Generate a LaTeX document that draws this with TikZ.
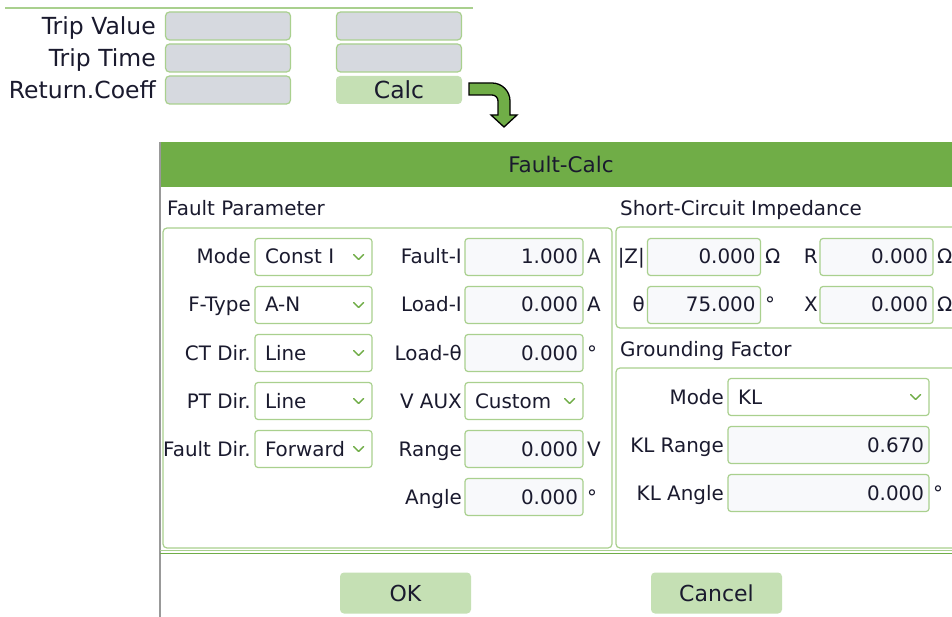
\documentclass[tikz,border=0pt]{standalone}
\usepackage{fontspec}
\setmainfont{DejaVu Sans}
\definecolor{uigreen}{HTML}{70AD47}
\definecolor{uigreenlt}{HTML}{A9D08E}
\definecolor{btngreen}{HTML}{C5E0B4}
\definecolor{boxgray}{HTML}{D6D9DF}
\definecolor{fieldbg}{HTML}{F8F9FB}
\definecolor{uitext}{HTML}{1A1A2E}
\newcommand{\topfont}{\fontsize{23.5}{26}\selectfont}
\newcommand{\dlgfont}{\fontsize{19.9}{22}\selectfont}
\newcommand{\ttlfont}{\fontsize{21.5}{24}\selectfont}
\newcommand{\btnfont}{\fontsize{22}{24}\selectfont}
% small drop-down mark at the right end of a combo
\newcommand{\chev}[1]{\draw[chevline] ([xshift=-19pt]#1.east) ++(0,-2.5) -- ++(5,5) -- ++(5,-5);}

\begin{document}
\begin{tikzpicture}[x=1pt, y=-1pt,
    every node/.style={text=uitext},
    toplbl/.style={anchor=east,inner sep=0pt,font=\topfont,text height=20,text depth=3},
    lbl/.style={anchor=east,inner sep=0pt,font=\dlgfont,text height=16,text depth=2},
    hdr/.style={anchor=west,inner sep=0pt,font=\dlgfont,text height=16,text depth=2},
    unit/.style={anchor=west,inner sep=0pt,font=\dlgfont,text height=16,text depth=2},
    grayfield/.style={draw=uigreenlt,fill=boxgray,rounded corners=4,line width=1.2,minimum width=125,minimum height=28,inner sep=0pt},
    calcbtn/.style={fill=btngreen,rounded corners=4,minimum width=126,minimum height=28,inner sep=0pt,font=\topfont,text height=20,text depth=3},
    combo/.style={draw=uigreenlt,fill=white,rounded corners=3,line width=1.2,minimum height=37,text width=#1,align=left,inner xsep=10,font=\dlgfont,text height=16,text depth=2},
    field/.style={draw=uigreenlt,fill=fieldbg,rounded corners=3,line width=1.2,minimum height=37,text width=#1,align=right,inner xsep=5,font=\dlgfont,text height=16,text depth=2},
    grp/.style={draw=uigreenlt,rounded corners=4,line width=1.2},
    btn/.style={fill=btngreen,rounded corners=4,minimum width=131,minimum height=41,font=\btnfont},
    chevline/.style={uigreen,line width=1.4,line cap=round,line join=round},
    flowarrow/.style={fill=uigreen,draw=black,line width=1.3,line join=miter}
  ]
  \clip (0,0) rectangle (952,617);
  \fill[white] (0,0) rectangle (952,617);

  % setting form
  \draw[uigreenlt,line width=1.2] (5,8) -- (473,8);
  \node[toplbl] (tvl) at (156,26) {Trip Value};
  \node[toplbl] (ttl) at (156,58) {Trip Time};
  \node[toplbl] (rcl) at (156,90) {Return.Coeff};
  \node[grayfield] (tv1) at (228,26) {};
  \node[grayfield] (tt1) at (228,58) {};
  \node[grayfield] (rc1) at (228,90) {};
  \node[grayfield] (tv2) at (399,26) {};
  \node[grayfield] (tt2) at (399,58) {};
  \node[calcbtn] (calc) at (399,90) {Calc};

  % bent arrow to the dialog
  \filldraw[flowarrow] (469,83) -- (492,83) arc (-90:0:18) -- (510,115) -- (517,115)
    -- (504,127) -- (491,115) -- (498,115) -- (498,101) arc (0:-90:6) -- (469,95) -- cycle;

  % dialog frame
  \draw[gray!80,line width=1.2] (160,142) -- (160,617);
  \fill[uigreen] (161,142) rectangle (960,187);
  \node[font=\ttlfont,text height=17,text depth=3] (title) at (561,166) {Fault-Calc};
  \node[hdr] (fph) at (167,209) {Fault Parameter};
  \node[hdr] (sch) at (620,209) {Short-Circuit Impedance};
  \node[hdr] (gfh) at (620,349) {Grounding Factor};
  \draw[grp] (163,228) rectangle (612,548);
  \draw[grp] (616,227) rectangle (970,328);
  \draw[grp] (616,368) rectangle (970,548);
  \draw[uigreenlt,line width=1] (160,550.5) -- (960,550.5);
  \draw[uigreen,line width=1.6] (160,553.5) -- (960,553.5);

  % fault parameter, left column
  \node[lbl] (model) at (251,257) {Mode};
  \node[lbl] (ftypel) at (251,305) {F-Type};
  \node[lbl] (ctl) at (251,353) {CT Dir.};
  \node[lbl] (ptl) at (251,401) {PT Dir.};
  \node[lbl] (fdirl) at (251,449) {Fault Dir.};
  \node[combo=97] (mode) at (313.5,257) {Const I}; \chev{mode}
  \node[combo=97] (ftype) at (313.5,305) {A-N}; \chev{ftype}
  \node[combo=97] (ctdir) at (313.5,353) {Line}; \chev{ctdir}
  \node[combo=97] (ptdir) at (313.5,401) {Line}; \chev{ptdir}
  \node[combo=97] (fdir) at (313.5,449) {Forward}; \chev{fdir}

  % fault parameter, right column
  \node[lbl] (faultil) at (462,257) {Fault-I};
  \node[lbl] (loadil) at (462,305) {Load-I};
  \node[lbl] (loadtl) at (462,353) {Load-θ};
  \node[lbl] (vauxl) at (462,401) {V AUX};
  \node[lbl] (rangel) at (462,449) {Range};
  \node[lbl] (anglel) at (462,497) {Angle};
  \node[field=108] (faulti) at (524,257) {1.000};
  \node[field=108] (loadi) at (524,305) {0.000};
  \node[field=108] (loadt) at (524,353) {0.000};
  \node[combo=98] (vaux) at (524,401) {Custom}; \chev{vaux}
  \node[field=108] (range) at (524,449) {0.000};
  \node[field=108] (angle) at (524,497) {0.000};
  \node[unit] (faultiu) at (587,257) {A};
  \node[unit] (loadiu) at (587,305) {A};
  \node[unit] (loadtu) at (587,353) {°};
  \node[unit] (rangeu) at (587,449) {V};
  \node[unit] (angleu) at (587,497) {°};

  % short-circuit impedance
  \node[lbl] (zl) at (645,257) {|Z|};
  \node[lbl] (thl) at (645,305) {θ};
  \node[field=103] (zval) at (704,257) {0.000};
  \node[field=103] (thval) at (704,305) {75.000};
  \node[unit] (zu) at (765,257) {Ω};
  \node[unit] (thu) at (765,305) {°};
  \node[lbl] (rl) at (818,257) {R};
  \node[lbl] (xl) at (818,305) {X};
  \node[field=103] (rval) at (876.5,257) {0.000};
  \node[field=103] (xval) at (876.5,305) {0.000};
  \node[unit] (ru) at (937,257) {Ω};
  \node[unit] (xu) at (937,305) {Ω};

  % grounding factor
  \node[lbl] (gmodel) at (724,397) {Mode};
  \node[lbl] (klrl) at (724,445) {KL Range};
  \node[lbl] (klal) at (724,493) {KL Angle};
  \node[combo=181] (gmode) at (828.5,397) {KL}; \chev{gmode}
  \node[field=191] (klr) at (828.5,445) {0.670};
  \node[field=191] (kla) at (828.5,493) {0.000};
  \node[unit] (klau) at (933,493) {°};

  % buttons
  \node[btn] (ok) at (405.5,593) {OK};
  \node[btn] (cancel) at (716.5,593) {Cancel};
\end{tikzpicture}
\end{document}
